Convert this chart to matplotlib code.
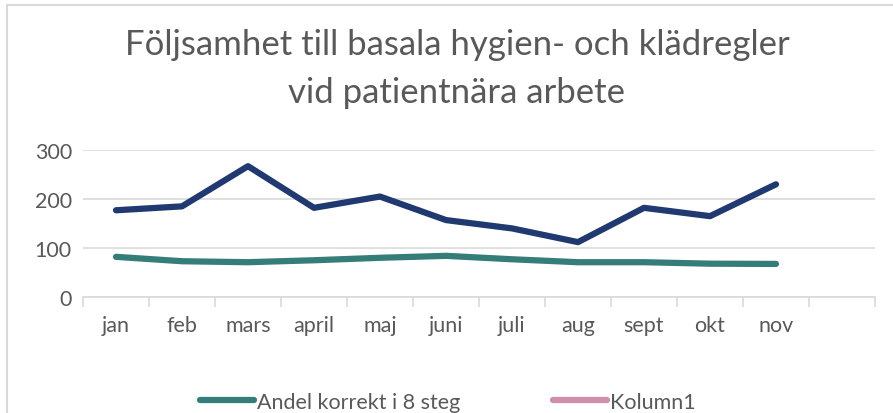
import numpy as np
import matplotlib
matplotlib.use('Agg')
import matplotlib.pyplot as plt
from matplotlib.patches import Rectangle
from matplotlib.lines import Line2D

# data
months = ['jan', 'feb', 'mars', 'april', 'maj', 'juni', 'juli', 'aug', 'sept', 'okt', 'nov', '']
total = [177, 185, 267, 182, 205, 157, 140, 112, 182, 165, 230]
andel = [82, 73, 71, 75, 80, 84, 77, 71, 71, 68, 67.5]
kolumn1 = []
title_lines = ['Följsamhet till basala hygien- och klädregler', 'vid patientnära arbete']

plt.rcParams['font.family'] = ['Lato', 'DejaVu Sans']
grey = '#595959'
navy = '#203970'
teal = '#357d78'
pink = '#d08eaa'

fig = plt.figure(figsize=(8.93, 4.14), dpi=100)
ax = fig.add_axes([83/893, 1 - 298/414, (875 - 83)/893, (298 - 151)/414])

x = np.arange(len(total))
ax.plot(x, total, color=navy, lw=4.5, solid_capstyle='round', solid_joinstyle='round', zorder=3)
ax.plot(np.arange(len(andel)), andel, color=teal, lw=4.5, solid_capstyle='round', solid_joinstyle='round', zorder=3)

ax.set_xlim(-0.5, len(months) - 0.5)
ax.set_ylim(0, 300)
ax.set_yticks([0, 100, 200, 300])
ax.set_xticks(np.arange(len(months)))
ax.set_xticklabels(months)
ax.set_xticks(np.arange(len(months) + 1) - 0.5, minor=True)
ax.tick_params(axis='x', which='major', length=0, pad=13, labelsize=15.5, labelcolor=grey)
ax.tick_params(axis='x', which='minor', length=7, width=1.2, color='#d9d9d9')
ax.tick_params(axis='y', length=0, pad=8, labelsize=15.5, labelcolor=grey)
ax.grid(axis='y', color='#d9d9d9', lw=1.2)
ax.set_axisbelow(True)
for s in ['top', 'right', 'left']:
    ax.spines[s].set_visible(False)
ax.spines['bottom'].set_color('#d9d9d9')
ax.spines['bottom'].set_linewidth(1.2)

# title, two lines placed on their own baselines
fig.text(457/893, 1 - 55/414, title_lines[0], ha='center', va='baseline', fontsize=25, color=grey)
fig.text(457/893, 1 - 103/414, title_lines[1], ha='center', va='baseline', fontsize=25, color=grey)

# chart border (left and top edges visible)
fig.patches.append(Rectangle((7/893, -0.1), 2, 1 - 6/414 + 0.1, transform=fig.transFigure,
                             fill=False, edgecolor='#d9d9d9', lw=1.5))

handles = [Line2D([], [], color=teal, lw=4.5, solid_capstyle='round'),
           Line2D([], [], color=pink, lw=4.5, solid_capstyle='round')]
fig.legend(handles, ['Andel korrekt i 8 steg', 'Kolumn1'], loc='center left',
           bbox_to_anchor=(200/893, 1 - 403/414), ncol=2, frameon=False, fontsize=15.5,
           labelcolor=grey, handlelength=2.5, handletextpad=0.15, columnspacing=4.3,
           borderaxespad=0, borderpad=0)

fig.savefig('out.png', dpi=100)
